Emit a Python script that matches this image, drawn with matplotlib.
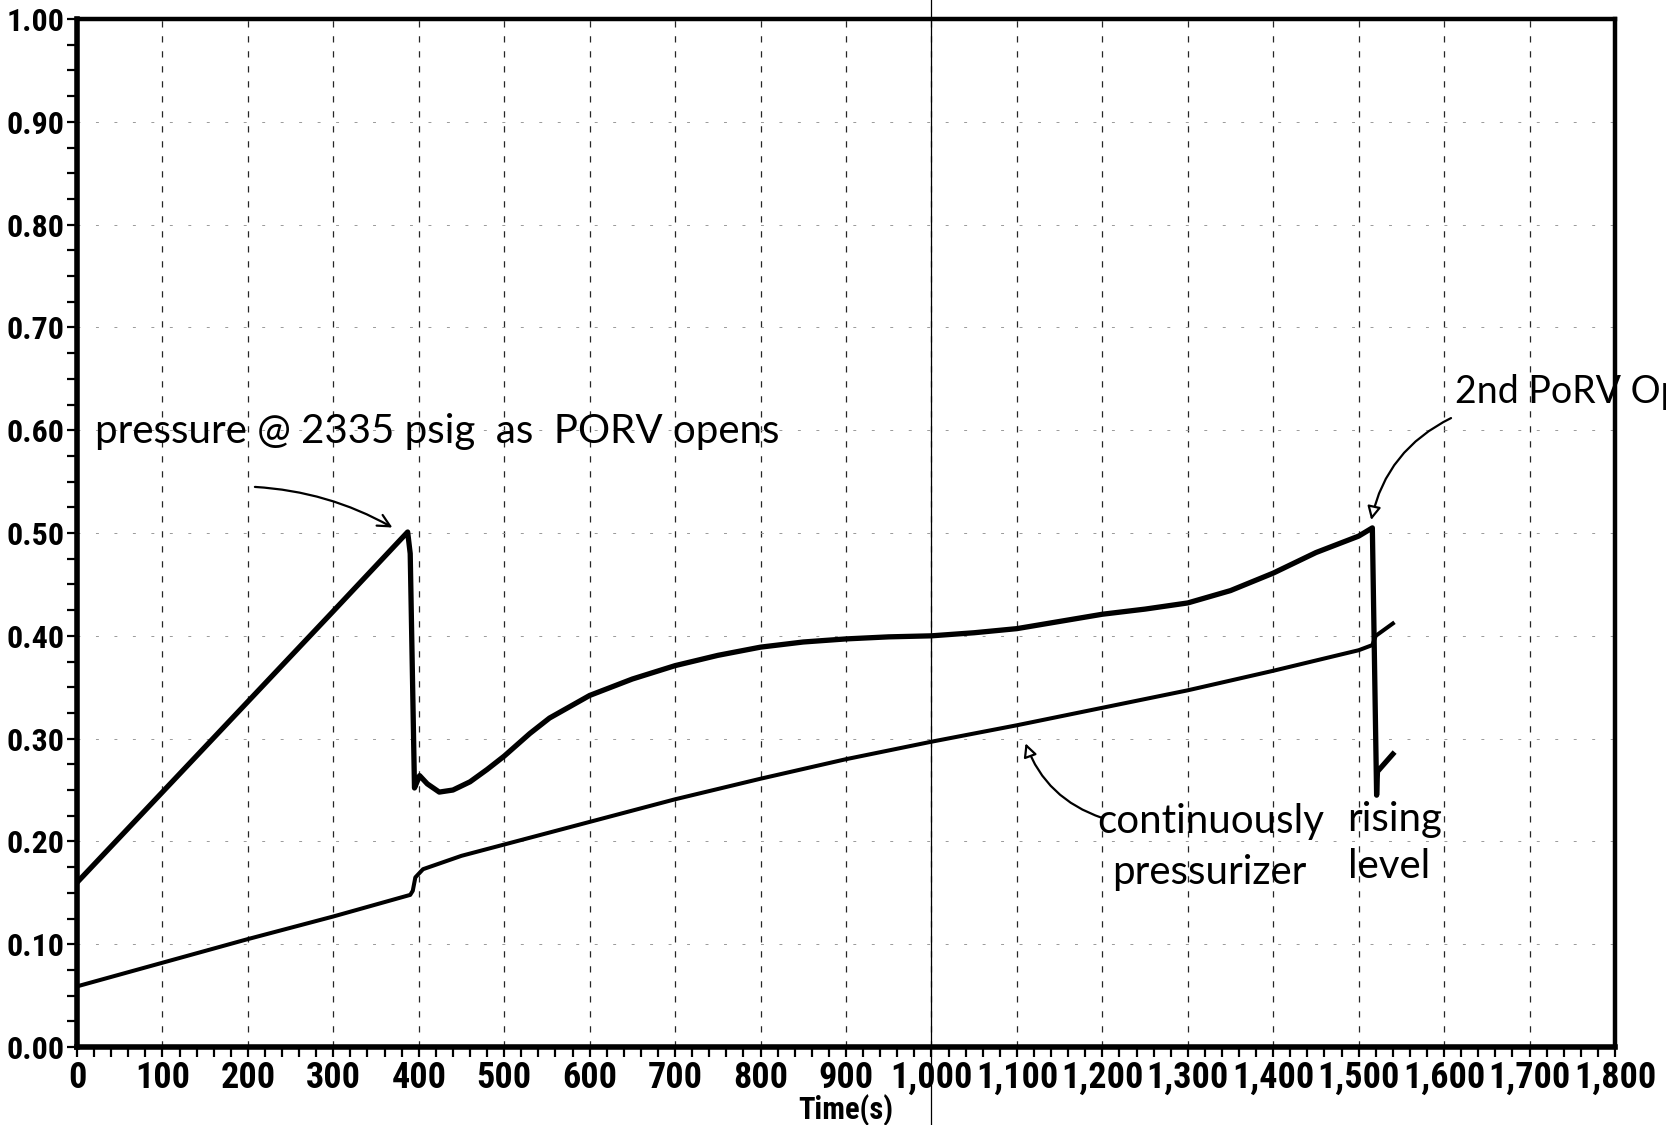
import matplotlib
matplotlib.use("Agg")
import matplotlib.pyplot as plt
import matplotlib.ticker as ticker
from matplotlib import font_manager

# ---- data ----
# upper trace (pressure, thick)
upper_t = [0, 100, 200, 300, 387, 390, 395, 398, 401, 410, 424, 440, 460, 480,
           500, 530, 553, 600, 650, 700, 750, 800, 850, 900, 950, 1000, 1050,
           1100, 1150, 1200, 1250, 1300, 1350, 1400, 1450, 1500, 1516, 1521,
           1522, 1540]
upper_y = [0.160, 0.248, 0.336, 0.424, 0.501, 0.480, 0.252, 0.258, 0.264, 0.256,
           0.248, 0.250, 0.258, 0.270, 0.283, 0.305, 0.320, 0.342, 0.358, 0.371,
           0.381, 0.389, 0.394, 0.397, 0.399, 0.400, 0.403, 0.407, 0.414, 0.421,
           0.426, 0.432, 0.444, 0.461, 0.481, 0.497, 0.505, 0.245, 0.268, 0.285]

# lower trace (pressurizer level)
lower_t = [0, 100, 200, 300, 390, 393, 396, 405, 450, 500, 550, 600, 700, 800,
           900, 1000, 1100, 1200, 1300, 1400, 1500, 1516, 1520, 1540]
lower_y = [0.059, 0.082, 0.105, 0.127, 0.148, 0.152, 0.165, 0.173, 0.186, 0.197,
           0.208, 0.219, 0.241, 0.261, 0.280, 0.297, 0.313, 0.330, 0.347, 0.366,
           0.386, 0.391, 0.400, 0.412]

x_ticks = list(range(0, 1801, 100))
y_ticks = [i / 10 for i in range(11)]


def pick_font(candidates):
    """Return first installed family from the list, or None."""
    for name in candidates:
        try:
            font_manager.findfont(font_manager.FontProperties(family=name),
                                  fallback_to_default=False)
            return name
        except Exception:
            continue
    return None


narrow = pick_font(['Liberation Sans Narrow', 'Roboto Condensed',
                    'Open Sans Condensed', 'DejaVu Sans Condensed'])
if narrow is not None:
    tick_font = [narrow, 'Liberation Sans']
    x_size, y_size, lab_size = 26, 23, 22
else:
    tick_font = ['Liberation Sans', 'DejaVu Sans']
    x_size, y_size, lab_size = 21, 21, 20

hand_font = ['Lato', 'DejaVu Sans']

fig = plt.figure(figsize=(16.66, 11.25), dpi=100)
ax = fig.add_axes([0.0462, 0.0693, 0.9232, 0.9138])

# traces
ax.plot(upper_t, upper_y, color='black', lw=3.8, solid_joinstyle='round', zorder=5)
ax.plot(lower_t, lower_y, color='black', lw=2.9, solid_joinstyle='round', zorder=5)

# axes limits / ticks
ax.set_xlim(0, 1800)
ax.set_ylim(0, 1.0)
ax.set_xticks(x_ticks)
ax.set_yticks(y_ticks)
ax.xaxis.set_minor_locator(ticker.MultipleLocator(20))
ax.yaxis.set_minor_locator(ticker.MultipleLocator(0.025))
ax.xaxis.set_major_formatter(ticker.FuncFormatter(lambda x, p: format(int(x), ',')))
ax.yaxis.set_major_formatter(ticker.FormatStrFormatter('%.2f'))
ax.tick_params(axis='both', which='both', direction='out', length=7, width=1.6, color='black')

for lab in ax.get_xticklabels():
    lab.set_fontfamily(tick_font)
    lab.set_fontweight('bold')
    lab.set_fontsize(x_size)
for lab in ax.get_yticklabels():
    lab.set_fontfamily(tick_font)
    lab.set_fontweight('bold')
    lab.set_fontsize(y_size)
ax.tick_params(axis='x', pad=2)
ax.tick_params(axis='y', pad=2)

ax.set_xlabel('Time(s)', fontsize=lab_size, fontweight='bold', family=tick_font, labelpad=-1)

for side in ['left', 'bottom']:
    ax.spines[side].set_linewidth(4.0)
for side in ['top', 'right']:
    ax.spines[side].set_linewidth(3.2)

# grid: dashed verticals, faint horizontals
ax.grid(True, axis='x', which='major', color='0.15', lw=0.9, linestyle=(0, (5, 7)))
ax.grid(True, axis='y', which='major', color='0.6', lw=0.7, linestyle=(0, (3, 16)))

# scan artefact: thin solid line through t=1000 across the whole page
ax.axvline(1000, ymin=-0.08, ymax=1.02, clip_on=False, color='black', lw=0.9, zorder=6)

# handwritten notes
note = dict(fontsize=29, family=hand_font, color='black', va='baseline', ha='left')
ax.text(21, 0.588, 'pressure @ 2335 psig  as  PORV opens', **note)
ax.annotate('', xy=(372, 0.504), xytext=(205, 0.545),
            arrowprops=dict(arrowstyle='->', lw=1.6, color='black',
                            connectionstyle='arc3,rad=-0.12', mutation_scale=22))

ax.text(1613, 0.626, '2nd PoRV Op', clip_on=False,
        **dict(note, fontsize=27))
ax.annotate('', xy=(1514, 0.510), xytext=(1611, 0.613),
            arrowprops=dict(arrowstyle='-|>', lw=1.6, color='black', fc='white',
                            connectionstyle='arc3,rad=0.25', mutation_scale=20),
            annotation_clip=False)

ax.text(1194, 0.208, 'continuously', **note)
ax.text(1486, 0.210, 'rising', **note)
ax.text(1211, 0.159, 'pressurizer', **note)
ax.text(1487, 0.164, 'level', **note)
ax.annotate('', xy=(1109, 0.298), xytext=(1203, 0.222),
            arrowprops=dict(arrowstyle='-|>', lw=1.6, color='black', fc='white',
                            connectionstyle='arc3,rad=-0.25', mutation_scale=20))

fig.savefig('out.png', dpi=100)
